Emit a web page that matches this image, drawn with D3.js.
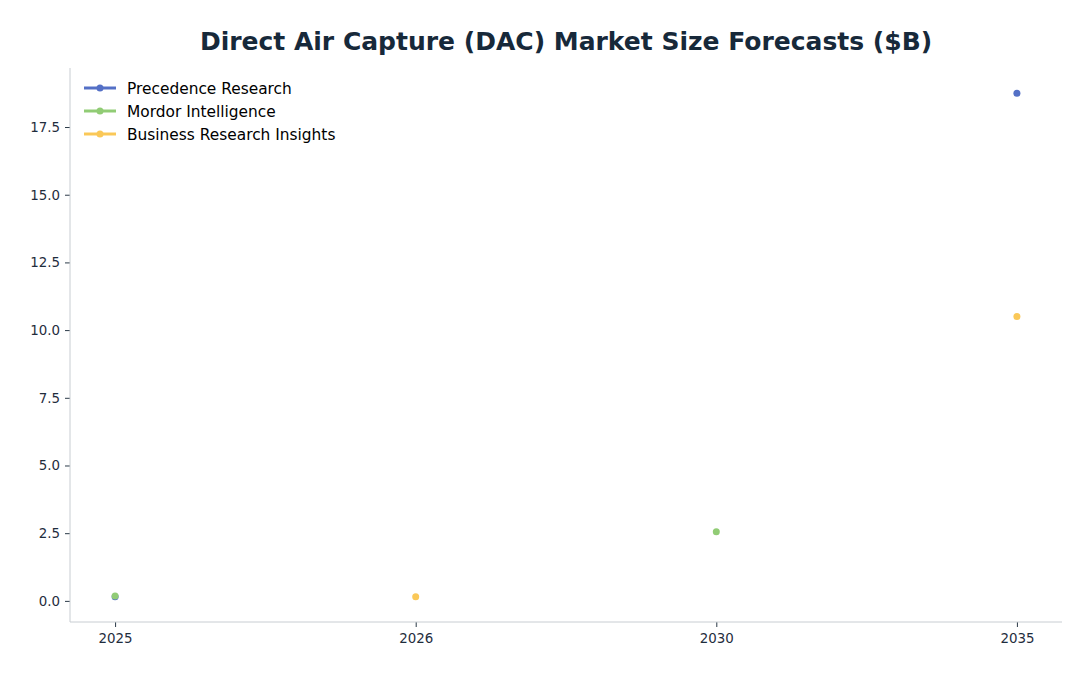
<!DOCTYPE html>
<html>
<head>
<meta charset="utf-8">
<script src="https://cdn.jsdelivr.net/npm/d3@7"></script>
<style>
  body { margin: 0; background: #fff; }
  svg { display: block; font-family: "DejaVu Sans", sans-serif; }
</style>
</head>
<body>
<script>
// chart data
var years = ["2025", "2026", "2030", "2035"];
var seriesNames = ["Precedence Research", "Mordor Intelligence", "Business Research Insights"];
var precedence = [0.15, null, null, 18.75];
var mordor = [0.18, null, 2.55, null];
var bri = [null, 0.15, null, 10.5];
var yTicks = [0, 2.5, 5, 7.5, 10, 12.5, 15, 17.5];

var colors = ["#5470c6", "#91cc75", "#fac858"];
var allSeries = [precedence, mordor, bri];

var W = 1092, H = 676;
var mLeft = 70, mRight = 1062, mTop = 68, mBottom = 622;

var svg = d3.select("body").append("svg")
    .attr("width", W)
    .attr("height", H);

// categorical x with matplotlib-like 5% margins
var xIdx = d3.scaleLinear()
    .domain([-0.15, years.length - 1 + 0.15])
    .range([mLeft, mRight]);
var x = function(yr) { return xIdx(years.indexOf(yr)); };

var y = d3.scaleLinear()
    .domain([-0.78, 19.68])
    .range([mBottom, mTop]);

// title
svg.append("text")
    .attr("x", 566)
    .attr("y", 50)
    .attr("text-anchor", "middle")
    .attr("font-size", 25)
    .attr("font-weight", "bold")
    .attr("fill", "#17293a")
    .text("Direct Air Capture (DAC) Market Size Forecasts ($B)");

// axes
var xAxis = d3.axisBottom(d3.scalePoint().domain(years).range([x("2025"), x("2035")]))
    .tickSize(5).tickPadding(6);
var yAxis = d3.axisLeft(y).tickValues(yTicks)
    .tickFormat(d3.format(".1f"))
    .tickSize(5).tickPadding(5);

var gx = svg.append("g")
    .attr("transform", "translate(0," + mBottom + ")")
    .call(xAxis);
var gy = svg.append("g")
    .attr("transform", "translate(" + mLeft + ",0)")
    .call(yAxis);

[gx, gy].forEach(function(g) {
    g.select(".domain").remove();
    g.selectAll(".tick line").attr("stroke", "#2b3a48");
    g.selectAll(".tick text")
        .attr("fill", "#1f2d3d")
        .attr("font-size", 13.4)
        .attr("font-family", "DejaVu Sans, sans-serif");
});

// spines
svg.append("line")
    .attr("x1", mLeft).attr("x2", mLeft)
    .attr("y1", mTop).attr("y2", mBottom)
    .attr("stroke", "#c8cdd2");
svg.append("line")
    .attr("x1", mLeft).attr("x2", mRight)
    .attr("y1", mBottom).attr("y2", mBottom)
    .attr("stroke", "#c8cdd2");

// series (lines break at gaps, so only markers show)
allSeries.forEach(function(vals, si) {
    var pts = years.map(function(yr, i) { return { year: yr, v: vals[i] }; });
    var line = d3.line()
        .defined(function(d) { return d.v != null; })
        .x(function(d) { return x(d.year); })
        .y(function(d) { return y(d.v); });
    svg.append("path")
        .datum(pts)
        .attr("d", line)
        .attr("fill", "none")
        .attr("stroke", colors[si])
        .attr("stroke-width", 3);
    svg.selectAll(".dot" + si)
        .data(pts.filter(function(d) { return d.v != null; }))
        .enter()
        .append("circle")
        .attr("cx", function(d) { return x(d.year); })
        .attr("cy", function(d) { return y(d.v); })
        .attr("r", 3.5)
        .attr("fill", colors[si]);
});

// legend
var legend = svg.append("g").attr("transform", "translate(84,88)");
seriesNames.forEach(function(name, i) {
    var g = legend.append("g").attr("transform", "translate(0," + (i * 23) + ")");
    g.append("line")
        .attr("x1", 0).attr("x2", 32)
        .attr("stroke", colors[i])
        .attr("stroke-width", 3);
    g.append("circle")
        .attr("cx", 16).attr("r", 3.5)
        .attr("fill", colors[i]);
    g.append("text")
        .attr("x", 43)
        .attr("y", 5.5)
        .attr("font-size", 15.4)
        .attr("fill", "#000")
        .text(name);
});
</script>
</body>
</html>
